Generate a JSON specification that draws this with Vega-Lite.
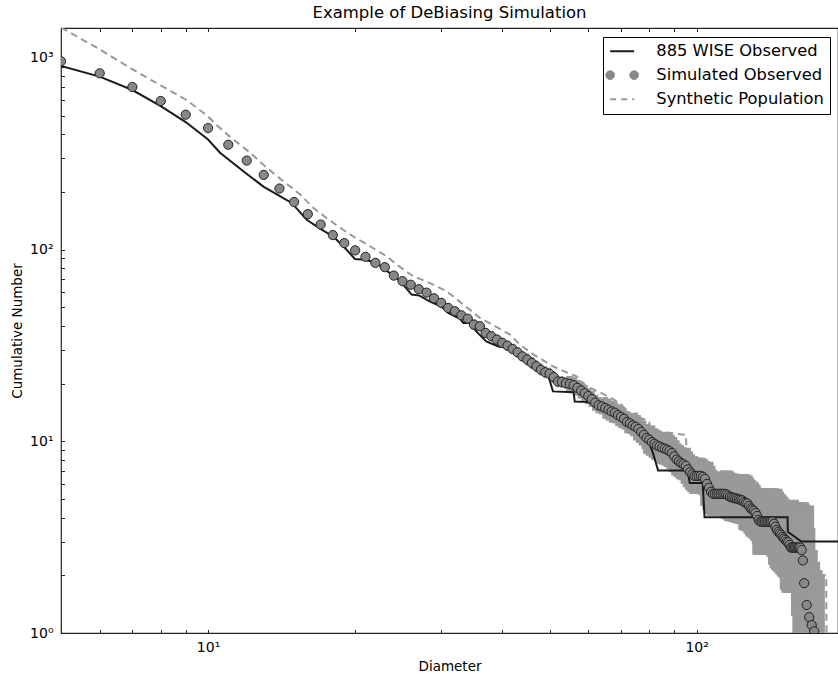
{
  "$schema": "https://vega.github.io/schema/vega-lite/v6.json",
  "autosize": "none",
  "width": 777,
  "height": 605,
  "padding": {"left": 61, "top": 28, "right": 0, "bottom": 46},
  "background": "white",
  "title": {"text": "Example of DeBiasing Simulation", "font": "DejaVu Sans", "fontSize": 16.5, "fontWeight": "normal", "color": "#000000", "anchor": "middle", "baseline": "alphabetic", "offset": -7},
  "config": {
    "view": {"stroke": "#222222", "strokeWidth": 1.2},
    "axis": {"grid": false, "domain": false, "tickColor": "#222222", "tickWidth": 1, "labelFont": "DejaVu Sans", "labelFontSize": 14, "labelColor": "#000000", "titleFont": "DejaVu Sans", "titleFontSize": 13.5, "titleFontWeight": "normal", "titleColor": "#000000", "labelOverlap": false, "labelFlush": false, "labelBound": false, "minExtent": 0}
  },
  "datasets": {
    "wise": [
      {"D":5,"N":906},{"D":6,"N":798},{"D":7,"N":679},{"D":8,"N":560},{"D":9,"N":462},{"D":10,"N":375},{"D":10.58,"N":320},{"D":11.81,"N":256},{"D":12.98,"N":213},{"D":14.03,"N":190},{"D":14.83,"N":175},{"D":15.92,"N":143},{"D":17.08,"N":127},{"D":18.04,"N":117},{"D":18.92,"N":104},{"D":19.98,"N":89.3},{"D":20.95,"N":88.5},{"D":22.13,"N":85.3},{"D":23.0,"N":78.6},{"D":24.0,"N":73.1},{"D":24.9,"N":67},{"D":26.1,"N":58.2},{"D":27.1,"N":57.5},{"D":28.4,"N":53.7},{"D":30.1,"N":50.2},{"D":31.0,"N":46.7},{"D":32.8,"N":43.5},{"D":33.3,"N":41.4},{"D":34.3,"N":41.4},{"D":35.4,"N":37.4},{"D":37.1,"N":33.2},{"D":39.3,"N":31.2},{"D":42.1,"N":30.6},{"D":46.2,"N":26.5},{"D":49.3,"N":23.6},{"D":50.8,"N":18.2},{"D":56.0,"N":18.0},{"D":56.3,"N":16.1},{"D":60.0,"N":16.0},{"D":62.4,"N":15.2},{"D":66.4,"N":14.3},{"D":71.3,"N":12.9},{"D":76.4,"N":11.2},{"D":79.5,"N":10.2},{"D":81.0,"N":9.0},{"D":81.4,"N":8.68},{"D":83.4,"N":7.04},{"D":95.9,"N":7.04},{"D":96.8,"N":6.05},{"D":102.9,"N":6.05},{"D":103.8,"N":4.02},{"D":153.5,"N":4.02},{"D":153.7,"N":3.37},{"D":163.8,"N":3.0},{"D":194.7,"N":3.0}
    ],
    "synth": [
      {"D":5,"N":1438},{"D":6,"N":1107},{"D":7,"N":871},{"D":8,"N":718},{"D":9,"N":606},{"D":10,"N":495},{"D":10.42,"N":445},{"D":11.26,"N":375},{"D":12.19,"N":320},{"D":13.18,"N":267},{"D":14.26,"N":227},{"D":15.42,"N":194},{"D":16.42,"N":165},{"D":17.48,"N":146},{"D":18.62,"N":130},{"D":19.82,"N":117},{"D":21.45,"N":104},{"D":23.2,"N":92.3},{"D":24.3,"N":83.5},{"D":26.3,"N":72.6},{"D":28.4,"N":67.0},{"D":30.8,"N":60.6},{"D":33.3,"N":51.6},{"D":36.0,"N":44.0},{"D":38.9,"N":39.5},{"D":41.5,"N":36.0},{"D":43.5,"N":31.9},{"D":46.2,"N":28.5},{"D":50.8,"N":24.6},{"D":53.7,"N":23.1},{"D":56.8,"N":21.8},{"D":59.5,"N":19.3},{"D":62.8,"N":18.2},{"D":66.3,"N":17.0},{"D":69.6,"N":15.8},{"D":72.9,"N":14.0},{"D":80.0,"N":12.7},{"D":80.2,"N":11.9},{"D":84.0,"N":11.25},{"D":89.4,"N":11.0},{"D":95.1,"N":10.8},{"D":95.3,"N":9.03},{"D":103,"N":7.85},{"D":106.3,"N":6.8},{"D":118.6,"N":6.3},{"D":136.6,"N":5.05},{"D":150.2,"N":4.95},{"D":152.6,"N":4.23},{"D":158.6,"N":3.66},{"D":166.3,"N":2.88},{"D":180.1,"N":2.01},{"D":184.2,"N":2.0},{"D":184.4,"N":1.0}
    ],
    "sim": [
      {"D":5,"N":959},{"D":6,"N":830},{"D":7,"N":704},{"D":8,"N":595},{"D":9,"N":505},{"D":10,"N":430},{"D":11,"N":352},{"D":12,"N":291},{"D":13,"N":245},{"D":14,"N":208},{"D":15,"N":177},{"D":16,"N":153},{"D":17,"N":135},{"D":18,"N":119},{"D":19,"N":108},{"D":20,"N":99},{"D":21,"N":91.6},{"D":22,"N":85.2},{"D":23,"N":80.9},{"D":24,"N":73.1},{"D":25,"N":68.4},{"D":26,"N":65.5},{"D":27,"N":62.1},{"D":28,"N":59.6},{"D":29,"N":55.7},{"D":30,"N":52.7},{"D":31,"N":49.6},{"D":32,"N":47.7},{"D":33,"N":45.4},{"D":34,"N":43.6},
      {"D":35,"N":40.6,"lo":38.2,"hi":43.1,"dlo":34.6,"dhi":35.4},
      {"D":36,"N":39.8,"lo":37.5,"hi":42.3,"dlo":35.6,"dhi":36.4},
      {"D":37,"N":36.7,"lo":34.6,"hi":39.0,"dlo":36.6,"dhi":37.4},
      {"D":38,"N":35.3,"lo":33.2,"hi":37.5,"dlo":37.6,"dhi":38.4},
      {"D":39,"N":33.9,"lo":31.9,"hi":36.0,"dlo":38.6,"dhi":39.4},
      {"D":40,"N":32.6,"lo":30.7,"hi":34.6,"dlo":39.6,"dhi":40.4},
      {"D":41,"N":31.5,"lo":29.7,"hi":33.5,"dlo":40.6,"dhi":41.4},
      {"D":42,"N":30.3,"lo":28.5,"hi":32.2,"dlo":41.6,"dhi":42.4},
      {"D":43,"N":29.1,"lo":27.4,"hi":30.9,"dlo":42.6,"dhi":43.4},
      {"D":44,"N":27.7,"lo":26.1,"hi":29.4,"dlo":43.6,"dhi":44.4},
      {"D":45,"N":26.7,"lo":24.8,"hi":28.7,"dlo":44.6,"dhi":45.4},
      {"D":46,"N":25.6,"lo":23.8,"hi":27.5,"dlo":45.6,"dhi":46.4},
      {"D":47,"N":24.6,"lo":22.9,"hi":26.4,"dlo":46.6,"dhi":47.4},
      {"D":48,"N":23.6,"lo":22.0,"hi":25.4,"dlo":47.6,"dhi":48.4},
      {"D":49,"N":22.9,"lo":21.3,"hi":24.6,"dlo":48.6,"dhi":49.4},
      {"D":50,"N":22.5,"lo":20.9,"hi":24.2,"dlo":49.6,"dhi":50.4},
      {"D":51,"N":21.6,"lo":20.1,"hi":23.2,"dlo":50.6,"dhi":51.4},
      {"D":52,"N":20.5,"lo":19.1,"hi":22.0,"dlo":51.6,"dhi":52.4},
      {"D":53,"N":20.4,"lo":19.0,"hi":21.9,"dlo":52.6,"dhi":53.4},
      {"D":54,"N":20.1,"lo":18.7,"hi":21.6,"dlo":53.6,"dhi":54.4},
      {"D":55,"N":19.9,"lo":18.1,"hi":21.9,"dlo":54.1,"dhi":55.9},
      {"D":56,"N":19.6,"lo":17.8,"hi":21.6,"dlo":55.1,"dhi":56.9},
      {"D":57,"N":19.0,"lo":17.3,"hi":20.9,"dlo":56.1,"dhi":57.9},
      {"D":58,"N":18.4,"lo":16.7,"hi":20.3,"dlo":57.1,"dhi":58.9},
      {"D":59,"N":17.8,"lo":16.2,"hi":19.6,"dlo":58.1,"dhi":59.9},
      {"D":60,"N":17.2,"lo":15.6,"hi":18.9,"dlo":59.1,"dhi":60.9},
      {"D":61,"N":16.6,"lo":15.1,"hi":18.3,"dlo":60.1,"dhi":61.9},
      {"D":62,"N":15.9,"lo":14.4,"hi":17.5,"dlo":61.1,"dhi":62.9},
      {"D":63,"N":15.4,"lo":14.0,"hi":17.0,"dlo":62.1,"dhi":63.9},
      {"D":64,"N":15.2,"lo":13.8,"hi":16.7,"dlo":63.1,"dhi":64.9},
      {"D":65,"N":14.9,"lo":13.1,"hi":17.0,"dlo":64.1,"dhi":65.9},
      {"D":66,"N":14.6,"lo":12.8,"hi":16.7,"dlo":65.1,"dhi":66.9},
      {"D":67,"N":14.3,"lo":12.5,"hi":16.3,"dlo":66.1,"dhi":67.9},
      {"D":68,"N":14.1,"lo":12.4,"hi":16.1,"dlo":67.1,"dhi":68.9},
      {"D":69,"N":13.7,"lo":12.0,"hi":15.6,"dlo":68.1,"dhi":69.9},
      {"D":70,"N":13.4,"lo":11.7,"hi":15.3,"dlo":69.1,"dhi":70.9},
      {"D":71,"N":13.1,"lo":11.5,"hi":14.9,"dlo":70.1,"dhi":71.9},
      {"D":72,"N":12.6,"lo":11.0,"hi":14.4,"dlo":71.1,"dhi":72.9},
      {"D":73,"N":12.4,"lo":10.9,"hi":14.1,"dlo":72.1,"dhi":73.9},
      {"D":74,"N":12.1,"lo":10.6,"hi":13.8,"dlo":73.1,"dhi":74.9},
      {"D":75,"N":11.9,"lo":10.1,"hi":14.1,"dlo":74.1,"dhi":75.9},
      {"D":76,"N":11.6,"lo":9.8,"hi":13.7,"dlo":75.1,"dhi":76.9},
      {"D":77,"N":11.2,"lo":9.5,"hi":13.2,"dlo":76.1,"dhi":77.9},
      {"D":78,"N":10.8,"lo":9.1,"hi":12.8,"dlo":77.1,"dhi":78.9},
      {"D":79,"N":10.4,"lo":8.8,"hi":12.3,"dlo":78.1,"dhi":79.9},
      {"D":80,"N":10.2,"lo":8.6,"hi":12.1,"dlo":77.7,"dhi":82.3},
      {"D":81,"N":9.9,"lo":8.4,"hi":11.7,"dlo":78.7,"dhi":83.3},
      {"D":82,"N":9.7,"lo":8.2,"hi":11.5,"dlo":79.7,"dhi":84.3},
      {"D":83,"N":9.5,"lo":8.0,"hi":11.2,"dlo":80.7,"dhi":85.3},
      {"D":84,"N":9.4,"lo":7.9,"hi":11.1,"dlo":81.7,"dhi":86.3},
      {"D":85,"N":9.25,"lo":7.63,"hi":11.2,"dlo":82.7,"dhi":87.3},
      {"D":86,"N":9.16,"lo":7.56,"hi":11.1,"dlo":83.7,"dhi":88.3},
      {"D":87,"N":9.04,"lo":7.46,"hi":10.96,"dlo":84.7,"dhi":89.3},
      {"D":88,"N":8.89,"lo":7.33,"hi":10.77,"dlo":85.7,"dhi":90.3},
      {"D":89,"N":8.68,"lo":7.16,"hi":10.52,"dlo":86.7,"dhi":91.3},
      {"D":90,"N":8.35,"lo":6.89,"hi":10.12,"dlo":87.7,"dhi":92.3},
      {"D":91,"N":8.03,"lo":6.63,"hi":9.73,"dlo":88.7,"dhi":93.3},
      {"D":92,"N":7.86,"lo":6.49,"hi":9.53,"dlo":89.7,"dhi":94.3},
      {"D":93,"N":7.69,"lo":6.34,"hi":9.32,"dlo":90.7,"dhi":95.3},
      {"D":94,"N":7.59,"lo":6.26,"hi":9.20,"dlo":91.7,"dhi":96.3},
      {"D":95,"N":7.45,"lo":6.00,"hi":9.25,"dlo":92.7,"dhi":97.3},
      {"D":96,"N":7.14,"lo":5.75,"hi":8.87,"dlo":93.7,"dhi":98.3},
      {"D":97,"N":6.89,"lo":5.55,"hi":8.56,"dlo":94.7,"dhi":99.3},
      {"D":98,"N":6.72,"lo":5.41,"hi":8.35,"dlo":95.7,"dhi":100.3},
      {"D":99,"N":6.60,"lo":5.31,"hi":8.20,"dlo":96.7,"dhi":101.3},
      {"D":100,"N":6.60,"lo":5.31,"hi":8.20,"dlo":97.7,"dhi":102.3},
      {"D":101,"N":6.60,"lo":5.31,"hi":8.20,"dlo":98.7,"dhi":103.3},
      {"D":102,"N":6.60,"lo":5.31,"hi":8.20,"dlo":99.7,"dhi":104.3},
      {"D":103,"N":6.52,"lo":5.25,"hi":8.10,"dlo":100.7,"dhi":105.3},
      {"D":104,"N":6.37,"lo":5.13,"hi":7.91,"dlo":101.7,"dhi":106.3},
      {"D":105,"N":6.00,"lo":4.60,"hi":7.82,"dlo":101.7,"dhi":108.3},
      {"D":106,"N":5.72,"lo":4.39,"hi":7.45,"dlo":102.7,"dhi":109.3},
      {"D":107,"N":5.45,"lo":4.18,"hi":7.10,"dlo":103.7,"dhi":110.3},
      {"D":108,"N":5.32,"lo":4.08,"hi":6.93,"dlo":104.7,"dhi":111.3},
      {"D":109,"N":5.32,"lo":4.08,"hi":6.93,"dlo":105.7,"dhi":112.3},
      {"D":110,"N":5.32,"lo":4.08,"hi":6.93,"dlo":106.7,"dhi":113.3},
      {"D":111,"N":5.32,"lo":4.08,"hi":6.93,"dlo":107.7,"dhi":114.3},
      {"D":112,"N":5.32,"lo":4.08,"hi":6.93,"dlo":108.7,"dhi":115.3},
      {"D":113,"N":5.32,"lo":4.08,"hi":6.93,"dlo":109.7,"dhi":116.3},
      {"D":114,"N":5.32,"lo":4.08,"hi":6.93,"dlo":110.7,"dhi":117.3},
      {"D":115,"N":5.29,"lo":3.96,"hi":7.06,"dlo":111.7,"dhi":118.3},
      {"D":116,"N":5.22,"lo":3.91,"hi":6.97,"dlo":112.7,"dhi":119.3},
      {"D":117,"N":5.13,"lo":3.84,"hi":6.85,"dlo":113.7,"dhi":120.3},
      {"D":118,"N":5.10,"lo":3.82,"hi":6.81,"dlo":114.7,"dhi":121.3},
      {"D":119,"N":5.07,"lo":3.80,"hi":6.77,"dlo":115.7,"dhi":122.3},
      {"D":120,"N":5.04,"lo":3.78,"hi":6.73,"dlo":116.7,"dhi":123.3},
      {"D":121,"N":5.01,"lo":3.75,"hi":6.69,"dlo":117.7,"dhi":124.3},
      {"D":122,"N":4.98,"lo":3.73,"hi":6.65,"dlo":118.7,"dhi":125.3},
      {"D":123,"N":4.95,"lo":3.71,"hi":6.61,"dlo":119.7,"dhi":126.3},
      {"D":124,"N":4.92,"lo":3.69,"hi":6.57,"dlo":120.7,"dhi":127.3},
      {"D":125,"N":4.83,"lo":3.45,"hi":6.76,"dlo":121.7,"dhi":128.3},
      {"D":126,"N":4.77,"lo":3.41,"hi":6.68,"dlo":122.7,"dhi":129.3},
      {"D":127,"N":4.74,"lo":3.39,"hi":6.64,"dlo":123.7,"dhi":130.3},
      {"D":128,"N":4.60,"lo":3.29,"hi":6.44,"dlo":124.7,"dhi":131.3},
      {"D":129,"N":4.47,"lo":3.19,"hi":6.26,"dlo":125.7,"dhi":132.3},
      {"D":130,"N":4.41,"lo":3.15,"hi":6.17,"dlo":126.7,"dhi":133.3},
      {"D":131,"N":4.34,"lo":3.10,"hi":6.08,"dlo":127.7,"dhi":134.3},
      {"D":132,"N":4.23,"lo":3.02,"hi":5.92,"dlo":128.7,"dhi":135.3},
      {"D":133,"N":4.08,"lo":2.91,"hi":5.71,"dlo":129.7,"dhi":136.3},
      {"D":134,"N":3.89,"lo":2.78,"hi":5.45,"dlo":130.7,"dhi":137.3},
      {"D":135,"N":3.81,"lo":2.56,"hi":5.67,"dlo":130,"dhi":140},
      {"D":136,"N":3.81,"lo":2.56,"hi":5.67,"dlo":131,"dhi":141},
      {"D":137,"N":3.81,"lo":2.56,"hi":5.67,"dlo":132,"dhi":142},
      {"D":138,"N":3.81,"lo":2.56,"hi":5.67,"dlo":133,"dhi":143},
      {"D":139,"N":3.81,"lo":2.56,"hi":5.67,"dlo":134,"dhi":144},
      {"D":140,"N":3.81,"lo":2.56,"hi":5.67,"dlo":135,"dhi":145},
      {"D":141,"N":3.81,"lo":2.56,"hi":5.67,"dlo":136,"dhi":146},
      {"D":142,"N":3.81,"lo":2.56,"hi":5.67,"dlo":137,"dhi":147},
      {"D":143,"N":3.81,"lo":2.56,"hi":5.67,"dlo":138,"dhi":148},
      {"D":144,"N":3.71,"lo":2.49,"hi":5.52,"dlo":139,"dhi":149},
      {"D":145,"N":3.58,"lo":2.27,"hi":5.65,"dlo":140,"dhi":150},
      {"D":146,"N":3.45,"lo":2.18,"hi":5.45,"dlo":141,"dhi":151},
      {"D":147,"N":3.37,"lo":2.13,"hi":5.32,"dlo":142,"dhi":152},
      {"D":148,"N":3.31,"lo":2.10,"hi":5.23,"dlo":143,"dhi":153},
      {"D":149,"N":3.25,"lo":2.06,"hi":5.13,"dlo":144,"dhi":154},
      {"D":150,"N":3.17,"lo":2.01,"hi":5.01,"dlo":145,"dhi":155},
      {"D":151,"N":3.11,"lo":1.97,"hi":4.91,"dlo":146,"dhi":156},
      {"D":152,"N":3.06,"lo":1.94,"hi":4.83,"dlo":147,"dhi":157},
      {"D":153,"N":3.00,"lo":1.90,"hi":4.74,"dlo":148,"dhi":158},
      {"D":154,"N":2.97,"lo":1.88,"hi":4.69,"dlo":149,"dhi":159},
      {"D":155,"N":2.88,"lo":1.68,"hi":4.95,"dlo":148,"dhi":162},
      {"D":156,"N":2.79,"lo":1.62,"hi":4.79,"dlo":149,"dhi":163},
      {"D":157,"N":2.79,"lo":1.62,"hi":4.79,"dlo":150,"dhi":164},
      {"D":158,"N":2.79,"lo":1.62,"hi":4.79,"dlo":151,"dhi":165},
      {"D":159,"N":2.79,"lo":1.62,"hi":4.79,"dlo":152,"dhi":166},
      {"D":160,"N":2.79,"lo":1.62,"hi":4.79,"dlo":153,"dhi":167},
      {"D":161,"N":2.79,"lo":1.62,"hi":4.79,"dlo":154,"dhi":168},
      {"D":162,"N":2.79,"lo":1.62,"hi":4.79,"dlo":155,"dhi":169},
      {"D":163,"N":2.79,"lo":1.62,"hi":4.79,"dlo":156,"dhi":170},
      {"D":164,"N":2.71,"lo":1.58,"hi":4.66,"dlo":157,"dhi":171},
      {"D":165,"N":2.39,"lo":1.23,"hi":4.63,"dlo":156,"dhi":174},
      {"D":166,"N":1.82,"lo":0.94,"hi":3.53,"dlo":157,"dhi":175},
      {"D":168,"N":1.40,"lo":0.72,"hi":2.71,"dlo":159,"dhi":177},
      {"D":170,"N":1.21,"lo":0.62,"hi":2.35,"dlo":161,"dhi":179},
      {"D":172,"N":1.10,"lo":0.57,"hi":2.13,"dlo":163,"dhi":181},
      {"D":174,"N":1.02,"lo":0.53,"hi":1.98,"dlo":165,"dhi":183}
    ]
  },
  "resolve": {"axis": {"x": "independent"}},
  "layer": [
    {
      "data": {"name": "sim"},
      "transform": [{"filter": "isValid(datum.lo)"}],
      "mark": {"type": "rect", "color": "#999999", "clip": true},
      "encoding": {
        "x": {"field": "dlo", "type": "quantitative", "scale": {"type": "log", "domain": [5, 194.7], "nice": false},
          "axis": {"orient": "bottom", "title": "Diameter", "titlePadding": 5, "values": [5,6,7,8,9,10,20,30,40,50,60,70,80,90,100], "labelExpr": "datum.value == 10 ? '10¹' : datum.value == 100 ? '10²' : ''", "tickSize": -3.5, "labelPadding": 11, "labelFontSize": 14, "titleFontSize": 13.5}},
        "x2": {"field": "dhi"},
        "y": {"field": "lo", "type": "quantitative", "scale": {"type": "log", "domain": [1, 1430], "nice": false},
          "axis": {"orient": "left", "title": "Cumulative Number", "titlePadding": 5, "values": [1,2,3,4,5,6,7,8,9,10,20,30,40,50,60,70,80,90,100,200,300,400,500,600,700,800,900,1000], "labelExpr": "datum.value == 1 ? '10⁰' : datum.value == 10 ? '10¹' : datum.value == 100 ? '10²' : datum.value == 1000 ? '10³' : ''", "tickSize": -3.5, "labelPadding": 11.5, "labelFontSize": 14, "titleFontSize": 13.5}},
        "y2": {"field": "hi"}
      }
    },
    {
      "data": {"name": "synth"},
      "mark": {"type": "line", "strokeWidth": 2, "strokeDash": [7, 4.5], "clip": true},
      "encoding": {
        "x": {"field": "D", "type": "quantitative", "scale": {"type": "log", "domain": [5, 194.7], "nice": false},
          "axis": {"orient": "top", "title": null, "labels": false, "values": [5,6,7,8,9,10,20,30,40,50,60,70,80,90,100], "tickSize": -3.5, "minExtent": 0, "maxExtent": 0}},
        "y": {"field": "N", "type": "quantitative", "scale": {"type": "log", "domain": [1, 1430], "nice": false}},
        "color": {"datum": "Synthetic Population", "type": "nominal",
          "scale": {"domain": ["885 WISE Observed", "Simulated Observed", "Synthetic Population"], "range": ["#1a1a1a", "#888888", "#999999"]},
          "legend": {
            "title": null, "orient": "none", "legendX": 542, "legendY": 9,
            "symbolType": "stroke", "symbolSize": 576, "symbolStrokeWidth": 2,
            "labelFont": "DejaVu Sans", "labelFontSize": 16.3, "labelColor": "#000000", "labelLimit": 0,
            "labelOffset": 26, "symbolOffset": 5, "padding": 6, "rowPadding": 7,
            "strokeColor": "#000000", "fillColor": "#ffffff", "cornerRadius": 0,
            "encode": {"symbols": {"update": {
              "shape": {"signal": "datum.value === 'Simulated Observed' ? 'M -0.64 0 A 0.36 0.36 0 1 0 -1.36 0 A 0.36 0.36 0 1 0 -0.64 0 Z M 1.36 0 A 0.36 0.36 0 1 0 0.64 0 A 0.36 0.36 0 1 0 1.36 0 Z' : 'stroke'"},
              "fill": {"signal": "datum.value === 'Simulated Observed' ? '#888888' : 'transparent'"},
              "stroke": {"signal": "datum.value === 'Simulated Observed' ? '#222222' : datum.value === 'Synthetic Population' ? '#999999' : '#1a1a1a'"},
              "strokeWidth": {"signal": "datum.value === 'Simulated Observed' ? 1 : 2"},
              "strokeDash": {"signal": "datum.value === 'Synthetic Population' ? [6, 5] : [1, 0]"},
              "opacity": {"value": 1}
            }}}
          }}
      }
    },
    {
      "data": {"name": "wise"},
      "mark": {"type": "line", "strokeWidth": 2, "clip": true},
      "encoding": {
        "x": {"field": "D", "type": "quantitative", "scale": {"type": "log", "domain": [5, 194.7], "nice": false}, "axis": null},
        "y": {"field": "N", "type": "quantitative", "scale": {"type": "log", "domain": [1, 1430], "nice": false}},
        "color": {"datum": "885 WISE Observed", "type": "nominal"}
      }
    },
    {
      "data": {"name": "sim"},
      "mark": {"type": "point", "filled": true, "size": 85, "opacity": 1, "stroke": "#222222", "strokeWidth": 1, "clip": true},
      "encoding": {
        "x": {"field": "D", "type": "quantitative", "scale": {"type": "log", "domain": [5, 194.7], "nice": false}, "axis": null},
        "y": {"field": "N", "type": "quantitative", "scale": {"type": "log", "domain": [1, 1430], "nice": false}},
        "color": {"datum": "Simulated Observed", "type": "nominal"}
      }
    }
  ]
}
